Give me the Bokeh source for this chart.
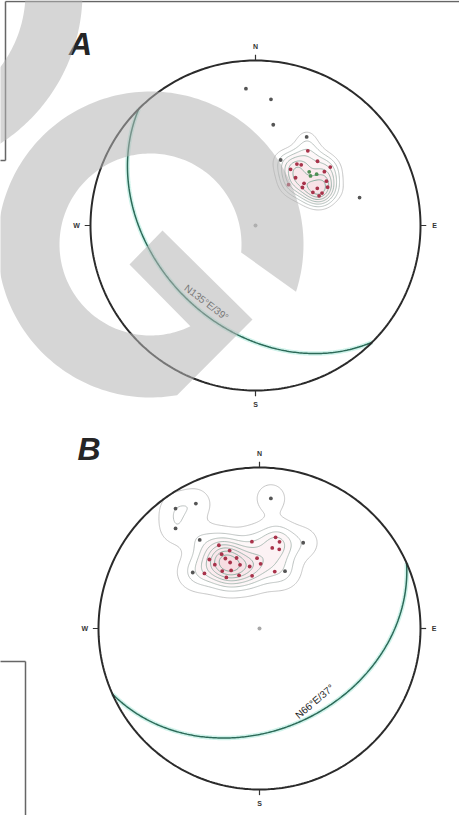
import numpy as np
from bokeh.plotting import figure
from bokeh.models import Range1d
from bokeh.layouts import column
from bokeh.core.properties import value
from bokeh.embed import file_html
from bokeh.resources import INLINE

# ---------------- data (lower hemisphere, equal-area net) ----------------
# Net A : poles (trend deg, plunge deg)
A_trend  = [356, 7, 10, 30, 35, 21, 75, 44, 34, 37, 52, 32, 52, 40, 39, 49, 58, 51, 59, 64, 62, 60, 65]
A_plunge = [18, 24, 38, 38, 44, 55, 35, 45, 53, 52, 42, 57, 46, 59, 64, 58, 48, 60, 54, 53, 49, 57, 55]
A_green_trend  = [45, 48, 50]
A_green_plunge = [52, 53, 50]
A_plane_strike, A_plane_dip = 135, 39
A_plane_label = "N135°E/39°"

# Net B : poles (trend deg, plunge deg)
B_trend  = [325, 333, 320, 5, 326, 334, 355, 10, 13, 9, 14, 27, 324, 333, 334, 336,
            342, 343, 351, 358, 1, 310, 315, 327, 327, 339, 352, 15, 24, 334, 325, 339]
B_plunge = [10, 14, 20, 20, 34, 42, 45, 42, 44, 48, 48, 40, 46, 47, 50, 53,
            52, 56, 58, 54, 57, 45, 50, 55, 59, 61, 63, 60, 58, 57, 50, 47]
B_plane_strike, B_plane_dip = 66, 37
B_plane_label = "N66°E/37°"

directions = ["N", "E", "S", "W"]
direction_az = [0, 90, 180, 270]

FONT = "Liberation Sans"
SQ2 = np.sqrt(2.0)
W = 459


def project(trend, plunge):
    t = np.radians(np.asarray(trend, float))
    p = np.radians(np.asarray(plunge, float))
    r = SQ2 * np.sin((np.pi / 2 - p) / 2)
    return r * np.sin(t), r * np.cos(t)


def great_circle(strike, dip, n=241):
    s = np.radians(strike)
    dd = s + np.pi / 2
    d = np.radians(dip)
    a = np.linspace(0, np.pi, n)
    E = np.cos(a) * np.sin(s) + np.sin(a) * np.sin(dd) * np.cos(d)
    N = np.cos(a) * np.cos(s) + np.sin(a) * np.cos(dd) * np.cos(d)
    D = np.sin(a) * np.sin(d)
    f = 1 / np.sqrt(1 + D)
    return E * f, N * f


def kde(xs, ys, sigma, gx, gy):
    out = np.zeros(np.broadcast(gx, gy).shape)
    for x, y in zip(xs, ys):
        out = out + np.exp(-((gx - x) ** 2 + (gy - y) ** 2) / (2 * sigma ** 2))
    return out


def mix(c1, c2, t):
    a = [int(c1[i:i + 2], 16) for i in (1, 3, 5)]
    b = [int(c2[i:i + 2], 16) for i in (1, 3, 5)]
    return "#" + "".join("%02x" % int(round(a[k] + (b[k] - a[k]) * t)) for k in range(3))


def make_net(cx, cy, R, top, height, letter, letter_xy, trend, plunge, sigma, base, nlev,
             strike, dip, label, label_xy, label_angle, label_color, borders,
             watermark=None, green=None):
    p = figure(width=W, height=height,
               x_range=Range1d((8 - cx) / R, (8 + W - cx) / R),
               y_range=Range1d((cy - (top + height)) / R, (cy - top) / R),
               output_backend="svg", toolbar_location=None, min_border=0,
               x_axis_location=None, y_axis_location=None,
               background_fill_color="white", border_fill_color="white")
    p.grid.visible = False
    p.outline_line_color = None

    def pg(px, py):
        return (np.asarray(px, float) - cx) / R, (cy - np.asarray(py, float)) / R

    # density contours
    xs, ys = project(trend, plunge)
    g = np.linspace(-1, 1, 301)
    GX, GY = np.meshgrid(g, g)
    Z = kde(xs, ys, sigma, GX, GY)
    Z[GX ** 2 + GY ** 2 > 1] = 0
    zmax = Z.max()
    levels = [base + (zmax - base) * i / nlev for i in range(nlev)] + [zmax * 1.01]
    line_cols = [mix("#b8b8b8", "#6a9f8c", i / (nlev - 1)) for i in range(nlev)] + ["#6a9f8c"]
    fill_cols = ["#e07b90"] * nlev
    fill_alpha = [0.0, 0.0] + [0.06 + 0.04 * i for i in range(nlev - 2)]
    p.contour(g, g, Z, levels, line_color=line_cols, line_width=0.8,
              fill_color=fill_cols, fill_alpha=fill_alpha)

    # great circle of the plane
    gxs, gys = great_circle(strike, dip)
    p.line(gxs, gys, line_color="#c4f0e6", line_width=4.5, line_alpha=0.8)
    p.line(gxs, gys, line_color="#2c6a58", line_width=1.5)

    # primitive circle, ticks, cardinal labels, centre
    th = np.linspace(0, 2 * np.pi, 361)
    p.line(np.cos(th), np.sin(th), line_color="#2b2b2b", line_width=2)
    az = np.radians(direction_az)
    p.segment(np.sin(az), np.cos(az), 1.035 * np.sin(az), 1.035 * np.cos(az),
              line_color="#333333", line_width=1.2)
    p.text(1.085 * np.sin(az), 1.085 * np.cos(az), text=directions,
           text_align="center", text_baseline="middle", text_font=value(FONT),
           text_font_size="7px", text_font_style="bold", text_color="#333333")
    p.scatter([0], [0], size=4, fill_color="#a8a8a8", line_color=None)

    # poles
    dens = kde(xs, ys, sigma, xs, ys)
    cols = ["#a8324a" if d >= levels[2] else "#555555" for d in dens]
    p.scatter(xs, ys, size=3.8, fill_color=cols, line_color=None)
    if green is not None:
        gx2, gy2 = project(*green)
        p.scatter(gx2, gy2, size=3.8, fill_color="#4f8f55", line_color=None)

    # plane label
    p.text([label_xy[0]], [label_xy[1]], text=[label], angle=label_angle,
           text_align="center", text_baseline="middle", text_font=value(FONT),
           text_font_size="10px", text_color=label_color)

    # panel letter
    p.text([letter_xy[0]], [letter_xy[1]], text=[letter], text_align="center",
           text_baseline="middle", text_font=value(FONT), text_font_size="32px",
           text_font_style="bold italic", text_color="#252525")

    # frame lines of the page
    for seg in borders:
        bx, by = pg([q[0] for q in seg], [q[1] for q in seg])
        p.line(bx, by, line_color="#666666", line_width=1.5)

    # watermark
    if watermark is not None:
        wx, wy = [], []
        for poly in watermark:
            a, b = pg([q[0] for q in poly], [q[1] for q in poly])
            wx.append(list(a))
            wy.append(list(b))
        p.patches(wx, wy, fill_color="#b4b4b4", fill_alpha=0.55, line_color=None)
    return p


# watermark shapes (page pixels)
gcx, gcy, gri, gro = 158, 252, 91, 153
a_in = np.radians(np.linspace(5, -296, 200))
a_out = np.radians(np.linspace(80, 378, 200))
G_shape = ([(gcx + gri * np.cos(a), gcy + gri * np.sin(a)) for a in a_in]
           + [(137, 272), (170, 238), (260, 327)]
           + [(gcx + gro * np.cos(a), gcy + gro * np.sin(a)) for a in a_out])
a2 = np.radians(np.linspace(-12, 100, 150))
arc_shape = ([(-90 + 180 * np.cos(a), 180 * np.sin(a)) for a in a2]
             + [(-90 + 123 * np.cos(a), 123 * np.sin(a)) for a in a2[::-1]])

pA = make_net(263, 233, 165, 8, 432, "A", (-1.061, 1.103), A_trend, A_plunge,
              0.064, 1.15, 7, A_plane_strike, A_plane_dip, A_plane_label,
              (-0.297, -0.467), -0.65, "#2a2a2a",
              borders=[[(13, 9), (480, 9)], [(13, 9), (13, 168)], [(0, 168), (13, 168)]],
              watermark=[G_shape, arc_shape],
              green=(A_green_trend, A_green_plunge))

pB = make_net(267, 636, 161, 440, 383, "B", (-1.059, 1.118), B_trend, B_plunge,
              0.072, 0.5, 8, B_plane_strike, B_plane_dip, B_plane_label,
              (0.342, -0.453), 0.70, "#1e1e1e",
              borders=[[(0, 669), (33, 669)], [(33, 669), (33, 840)]])

layout = column(pA, pB, spacing=0)
open("out.html", "w").write(file_html(layout, INLINE))
